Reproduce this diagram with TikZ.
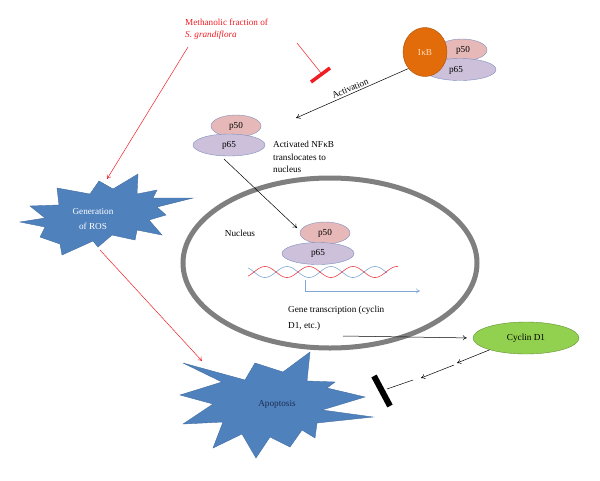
\documentclass[tikz,border=0pt]{standalone}
\usepackage{fontspec}
\setmainfont{Liberation Serif}
\usepackage{tikz}
\usetikzlibrary{arrows.meta, shapes.geometric, positioning}

\definecolor{starblue}{HTML}{4F81BD}
\definecolor{ikborange}{HTML}{E36C0A}
\definecolor{pfiftyfill}{HTML}{E6B9B8}
\definecolor{psixtyfill}{HTML}{CCC0DA}
\definecolor{protedge}{HTML}{7F8FBF}
\definecolor{cyclingreen}{HTML}{92D050}
\definecolor{nucgray}{HTML}{7F7F7F}
\definecolor{dnablue}{HTML}{7FA7D5}
\definecolor{dnared}{HTML}{E8404A}
\definecolor{plantred}{HTML}{F01E24}

\begin{document}
\begin{tikzpicture}[
    x=1pt, y=-1pt,
    >={To[length=4pt,width=5pt]},
    every node/.style={font=\fontsize{9.2}{12}\selectfont},
    pfifty/.style={ellipse, draw=protedge, fill=pfiftyfill, minimum width=50pt, minimum height=22pt, inner sep=0pt},
    psixtyfive/.style={ellipse, draw=protedge, fill=psixtyfill, minimum width=72pt, minimum height=22pt, inner sep=0pt},
    burst/.style={fill=starblue, draw=starblue!85!black, line width=0.4pt},
    redarrow/.style={->, plantred, line width=0.5pt},
    blackarrow/.style={->, line width=0.5pt}
]
\useasboundingbox (0,0) rectangle (600,480);

% Nucleus
\node[ellipse, draw=nucgray, line width=5pt, minimum width=294pt, minimum height=170pt] (nucleus) at (330,263) {};
\node (nuclabel) at (240,233) {Nucleus};

% Inactive complex with IkB
\node[pfifty] (topfifty) at (462,50) {};
\node[psixtyfive] (topsixtyfive) at (460,69.5) {};
\node at (463,50) {p50};
\node at (456,70) {p65};
\node[ellipse, draw=ikborange!75!black, fill=ikborange, text=orange!25, minimum width=44pt, minimum height=49pt, inner sep=0pt] (ikb) at (425,52) {I\kern0.3ptκB};

% Activated NFkB
\node[pfifty] (actfifty) at (236,126) {p50};
\node[psixtyfive] (actsixtyfive) at (229,145) {p65};
\node[align=left, anchor=north west, inner sep=0pt, font=\fontsize{9.2}{12.5}\selectfont] (transloc) at (273,141) {Activated NF\kern0.3ptκB\\translocates to\\nucleus};

% NFkB bound to DNA
\node[pfifty] (nucfifty) at (325,233) {p50};
\node[psixtyfive] (nucsixtyfive) at (318,253.5) {p65};
\draw[dnablue, line width=0.6pt] plot[domain=248:387, samples=90] (\x, {272+5.5*cos((\x-265)*8.1818)});
\draw[dnared, line width=0.6pt] plot[domain=248:398, samples=90] (\x, {272-5.5*cos((\x-265)*8.1818)});
\coordinate (txstart) at (305,280);
\coordinate (txend) at (420,291);
\draw[->, dnablue, line width=0.6pt] (txstart) |- (txend);
\node[align=left, anchor=north west, inner sep=0pt, font=\fontsize{9.2}{16}\selectfont] (genetx) at (288,306) {Gene transcription (cyclin\\D1, etc.)};

% Cyclin D1
\node[ellipse, draw=cyclingreen!70!black, fill=cyclingreen, minimum width=106pt, minimum height=32pt] (cyclin) at (526,338) {Cyclin D1};

% Generation of ROS
\draw[burst] (20,222) -- (45,218) -- (30,206) -- (59,205) -- (57,188) -- (90,194) -- (99,181) -- (113,189)
  -- (138,174) -- (137,194) -- (157,190) -- (153,198) -- (193,198) -- (157,207) -- (166,215) -- (149,220)
  -- (162,235) -- (137,230) -- (135,240) -- (112,235) -- (98,247) -- (93,241) -- (62,255) -- (60,244)
  -- (40,237) -- (45,227) -- cycle;
\node[align=center, text=white, font=\fontsize{9.2}{15}\selectfont] (ros) at (93,219) {Generation\\of ROS};

% Apoptosis
\draw[burst] (183,363) -- (222,382) -- (180,395) -- (213,404) -- (183,424) -- (223,422) -- (213,448) -- (242,434)
  -- (256,458) -- (270,437) -- (290,447) -- (302,430) -- (315,438) -- (317,423) -- (373,417) -- (322,410)
  -- (365,397) -- (327,388) -- (335,382) -- (307,381) -- (310,352) -- (283,372) -- (255,363) -- (245,380) -- cycle;
\node[text={rgb,255:red,31;green,45;blue,80}] (apop) at (277,404) {Apoptosis};

% Methanolic fraction
\node[plantred, align=left, anchor=north west, inner sep=0pt, font=\fontsize{9.2}{11.5}\selectfont] (methanol) at (185,19) {Methanolic fraction of\\\textit{S. grandiflora}};
\coordinate (methtail) at (188,47);
\coordinate (roshead) at (107,179);
\draw[redarrow] (methtail) -- (roshead);
\coordinate (inhtail) at (297,43);
\coordinate (inhhead) at (321,73);
\draw[plantred, line width=0.5pt] (inhtail) -- (inhhead);
\draw[plantred, line width=3.5pt] (311,82) -- (330,68);

% Activation and translocation
\coordinate (actend) at (296,118);
\draw[blackarrow] (ikb.-135) -- node[above, sloped, inner sep=2pt] {Activation} (actend);
\coordinate (transtail) at (224,159);
\coordinate (transhead) at (297,228);
\draw[blackarrow] (transtail) -- (transhead);

% ROS to apoptosis
\coordinate (rostail) at (100,250);
\coordinate (apophead) at (202,361);
\draw[redarrow] (rostail) -- (apophead);

% Transcription to cyclin D1
\coordinate (genetail) at (343,336);
\draw[blackarrow, shorten >=6pt] (genetail) -- (cyclin.west);

% Cyclin D1 blocks apoptosis
\coordinate (cycA) at (457,363);
\coordinate (cycB) at (454,365);
\coordinate (cycC) at (421,378);
\coordinate (cycD) at (413,380);
\coordinate (cycE) at (387,389);
\draw[blackarrow] (cyclin.198) -- (cycA);
\draw[blackarrow] (cycB) -- (cycC);
\draw[line width=0.5pt] (cycD) -- (cycE);
\draw[line width=6pt] (374,376) -- (390,406);

\end{tikzpicture}
\end{document}
